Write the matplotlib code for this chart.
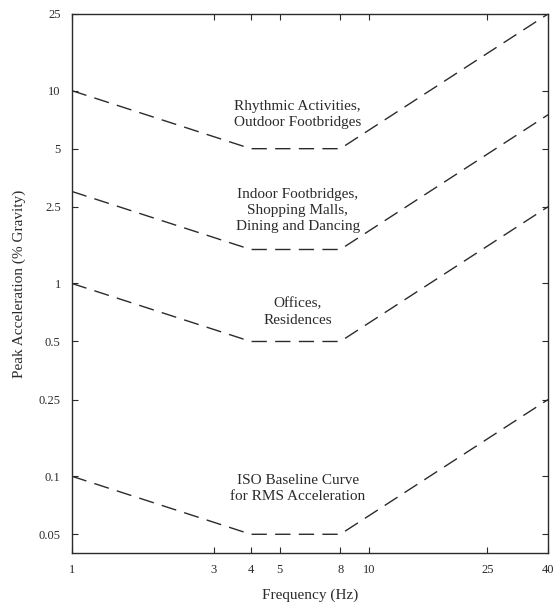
import numpy as np
import matplotlib
matplotlib.use("Agg")
import matplotlib.pyplot as plt
from matplotlib.ticker import FixedLocator, NullLocator, FixedFormatter

# criteria curves (frequency in Hz, peak acceleration in % gravity)
freq = [1, 4, 8, 40]
rhythmic = [10, 5, 5, 25]
indoor = [3, 1.5, 1.5, 7.5]
offices = [1, 0.5, 0.5, 2.5]
iso_base = [0.1, 0.05, 0.05, 0.25]

curve_labels = [
    "Rhythmic Activities,\nOutdoor Footbridges",
    "Indoor Footbridges,\nShopping Malls,\nDining and Dancing",
    "Offices,\nResidences",
    "ISO Baseline Curve\nfor RMS Acceleration",
]
label_y = [7.5, 2.4, 0.71, 0.086]

xticks = [1, 3, 4, 5, 8, 10, 25, 40]
yticks = [0.05, 0.1, 0.25, 0.5, 1, 2.5, 5, 10, 25]
ytick_labels = ["0.05", "0.1", "0.25", "0.5", "1", "2.5", "5", "10", "25"]

plt.rcParams["font.family"] = ["Liberation Serif", "DejaVu Serif"]
ink = "#2b2b2b"

fig = plt.figure(figsize=(5.57, 6.05), dpi=100)
ax = fig.add_axes([0.129, 0.086, 0.855, 0.891])

for series in [rhythmic, indoor, offices, iso_base]:
    ax.plot(freq, series, color=ink, lw=1.0, dashes=(11, 6))

for txt, yv in zip(curve_labels, label_y):
    ax.text(5.75, yv, txt, ha="center", va="center", fontsize=11,
            color=ink, linespacing=1.3)

ax.set_xscale("log")
ax.set_yscale("log")
ax.set_xlim(1, 40)
ax.set_ylim(0.04, 25)

ax.xaxis.set_major_locator(FixedLocator(xticks))
ax.xaxis.set_major_formatter(FixedFormatter([str(t) for t in xticks]))
ax.xaxis.set_minor_locator(NullLocator())
ax.yaxis.set_major_locator(FixedLocator(yticks))
ax.yaxis.set_major_formatter(FixedFormatter(ytick_labels))
ax.yaxis.set_minor_locator(NullLocator())

ax.tick_params(direction="in", top=True, right=True, length=4, width=0.8,
               labelsize=9, colors=ink, pad=8)
for sp in ax.spines.values():
    sp.set_color(ink)
    sp.set_linewidth(1.0)

ax.set_xlabel("Frequency (Hz)", fontsize=11, color=ink, labelpad=9)
ax.set_ylabel("Peak Acceleration (% Gravity)", fontsize=11, color=ink, labelpad=9)

fig.savefig("out.png", dpi=100)
